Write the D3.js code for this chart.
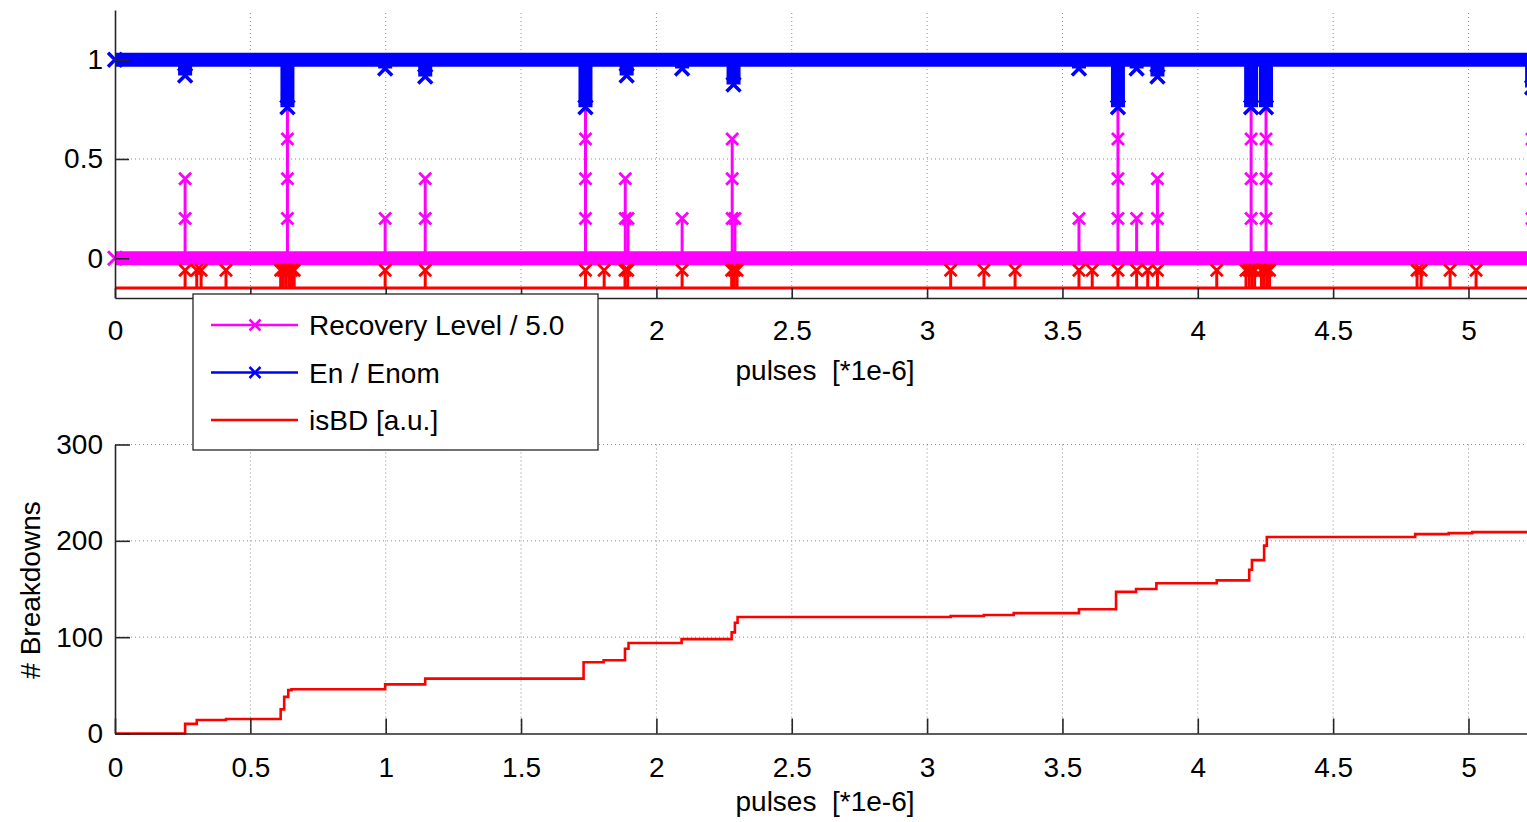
<!DOCTYPE html>
<html>
<head>
<meta charset="utf-8">
<script src="https://cdn.jsdelivr.net/npm/d3@7.9.0/dist/d3.min.js"></script>
<style>
  body { margin: 0; background: #fff; overflow: hidden; }
  svg { display: block; font-family: "Liberation Sans", Arial, sans-serif; }
  .grid line { stroke: #8c8c8c; stroke-width: 1; stroke-dasharray: 1 3; }
  .axis path, .axis line { stroke: #262626; stroke-width: 1.6; }
  .axis text { font-size: 28px; fill: #000; font-family: "Liberation Sans", Arial, sans-serif; }
  .label { font-size: 28px; fill: #000; white-space: pre; }
</style>
</head>
<body>
<svg id="chart" width="1527" height="822"></svg>
<script>
// ticks
const xTicks = [0, 0.5, 1, 1.5, 2, 2.5, 3, 3.5, 4, 4.5, 5];
const topTicks = [0, 0.5, 1];
const bottomTicks = [0, 100, 200, 300];

// breakdowns, pulses [*1e-6]
const bdPulses = [0.259, 0.302, 0.318, 0.41, 0.612, 0.622, 0.632, 0.642, 0.652, 0.662,
  0.998, 1.146, 1.738, 1.807, 1.884, 1.894, 2.095, 2.278, 2.288, 2.298,
  3.087, 3.21, 3.325, 3.561, 3.61, 3.705, 3.774, 3.815, 3.851, 4.07,
  4.178, 4.19, 4.2, 4.21, 4.235, 4.245, 4.255, 4.265, 4.81, 4.825, 4.932, 5.028];
const bdBase = -0.15;
const bdMark = -0.06;

// recovery level (steps of 1/5)
const recPulses = [0.259, 0.637, 0.998, 1.146, 1.738, 1.885, 1.895, 2.095, 2.28, 2.29,
  3.561, 3.705, 3.774, 3.851, 4.197, 4.252, 5.235];
const recLevels = [2, 4, 1, 2, 4, 2, 1, 1, 3, 1, 1, 4, 1, 2, 4, 4, 3];

// En / Enom dips
const enPulses = [0.259, 0.637, 0.998, 1.146, 1.738, 1.89, 2.095, 2.285,
  3.561, 3.705, 3.774, 3.851, 4.197, 4.252, 5.235];
const enDips = [0.92, 0.76, 0.955, 0.915, 0.76, 0.92, 0.955, 0.875,
  0.955, 0.76, 0.955, 0.915, 0.76, 0.76, 0.86];

// cumulative breakdowns
const cumPulses = [0, 0.259, 0.302, 0.41, 0.612, 0.625, 0.64, 0.652, 0.998, 1.146,
  1.731, 1.805, 1.884, 1.897, 2.093, 2.278, 2.29, 2.3, 3.087, 3.21, 3.32, 3.561,
  3.698, 3.772, 3.847, 4.07, 4.19, 4.2, 4.245, 4.255, 4.803, 4.927, 5.014, 5.5];
const cumCount = [0, 10, 14, 15, 25, 38, 45, 46, 51, 57,
  74, 76, 88, 94, 98, 105, 115, 121, 122, 123, 125, 129,
  147, 150, 156, 159, 170, 180, 195, 204, 207, 208, 209, 209];

const legendLabels = ['Recovery Level / 5.0', 'En / Enom', 'isBD [a.u.]'];
const colors = ['#ff00ff', '#0000ff', '#ff0000'];

const svg = d3.select('#chart');

let x = d3.scaleLinear().domain([0, 5.5]).range([115, 115 + 5.5 * 270.7]);
let yTop = d3.scaleLinear().domain([-0.2, 1.25]).range([298, 10]);
let yBot = d3.scaleLinear().domain([0, 300]).range([733.5, 444.5]);

// legend box, drawn last but needed to know which top tick labels it hides
const legendBox = { x: 193, y: 294, w: 405, h: 156 };

function cross(cx, cy, r = 6) {
  return `M${cx - r},${cy - r}L${cx + r},${cy + r}M${cx - r},${cy + r}L${cx + r},${cy - r}`;
}

function grid(y, yTicks) {
  let g = svg.append('g').attr('class', 'grid');
  g.selectAll('.gx').data(xTicks.slice(1)).join('line')
    .attr('x1', (d) => x(d)).attr('x2', (d) => x(d))
    .attr('y1', y.range()[0]).attr('y2', y.range()[1]);
  g.selectAll('.gy').data(yTicks.slice(1)).join('line')
    .attr('x1', x(0)).attr('x2', 1527)
    .attr('y1', (d) => y(d)).attr('y2', (d) => y(d));
}

function axes(y, yTicks, xLen, yLen, pad, hideUnderLegend) {
  let fmt = d3.format('~g');
  let xFmt = (d) => {
    let px = x(d);
    if (hideUnderLegend && px > legendBox.x - 10 && px < legendBox.x + legendBox.w + 10) return '';
    return fmt(d);
  };
  svg.append('g').attr('class', 'axis')
    .attr('transform', `translate(0,${y.range()[0]})`)
    .call(d3.axisBottom(x).tickValues(xTicks).tickSizeInner(-xLen).tickSizeOuter(0)
      .tickPadding(pad).tickFormat(xFmt));
  svg.append('g').attr('class', 'axis')
    .attr('transform', `translate(${x(0)},0)`)
    .call(d3.axisLeft(y).tickValues(yTicks).tickSizeInner(-yLen).tickSizeOuter(0)
      .tickPadding(12).tickFormat(fmt));
}

// TOP PLOT
grid(yTop, topTicks);

// recovery level
svg.append('path')
  .attr('d', d3.line()([[x(0), yTop(0)], [x(5.5), yTop(0)]]))
  .attr('stroke', colors[0]).attr('stroke-width', 14).attr('fill', 'none');
svg.append('path').attr('d', cross(x(0), yTop(0), 7))
  .attr('stroke', colors[0]).attr('stroke-width', 3);
recPulses.forEach((p, i) => {
  let lv = d3.range(1, recLevels[i] + 1).map((k) => k / 5);
  svg.append('line')
    .attr('x1', x(p)).attr('x2', x(p))
    .attr('y1', yTop(0)).attr('y2', yTop(recLevels[i] / 5))
    .attr('stroke', colors[0]).attr('stroke-width', 3);
  svg.append('g').selectAll('path').data(lv).join('path')
    .attr('d', (d) => cross(x(p), yTop(d)))
    .attr('stroke', colors[0]).attr('stroke-width', 2.8);
});

// En / Enom
let enPts = [[0, 1]];
enPulses.forEach((p, i) => {
  enPts.push([p, 1], [p, enDips[i]], [p, 1]);
});
enPts.push([5.5, 1]);
svg.append('path')
  .attr('d', d3.line().x((d) => x(d[0])).y((d) => yTop(d[1]))(enPts))
  .attr('stroke', colors[1]).attr('stroke-width', 14).attr('fill', 'none')
  .attr('stroke-linecap', 'butt');
svg.append('g').selectAll('path').data([[0, 1]].concat(enPulses.map((p, i) => [p, enDips[i]]))).join('path')
  .attr('d', (d) => cross(x(d[0]), yTop(d[1]), 7))
  .attr('stroke', colors[1]).attr('stroke-width', 3.5);

// isBD
svg.append('line')
  .attr('x1', x(0)).attr('x2', x(5.5))
  .attr('y1', yTop(bdBase)).attr('y2', yTop(bdBase))
  .attr('stroke', colors[2]).attr('stroke-width', 3);
svg.append('g').selectAll('line').data(bdPulses).join('line')
  .attr('x1', (d) => x(d)).attr('x2', (d) => x(d))
  .attr('y1', yTop(bdBase)).attr('y2', yTop(bdMark))
  .attr('stroke', colors[2]).attr('stroke-width', 3);
svg.append('g').selectAll('path').data(bdPulses).join('path')
  .attr('d', (d) => cross(x(d), yTop(bdMark)))
  .attr('stroke', colors[2]).attr('stroke-width', 2.8);

axes(yTop, topTicks, 10, 14, 22, true);
svg.append('text').attr('class', 'label')
  .attr('x', 825).attr('y', 380).attr('text-anchor', 'middle')
  .text('pulses  [*1e-6]');

// BOTTOM PLOT
grid(yBot, bottomTicks);
svg.append('path')
  .attr('d', d3.line().x((d, i) => x(cumPulses[i])).y((d) => yBot(d)).curve(d3.curveStepAfter)(cumCount))
  .attr('stroke', colors[2]).attr('stroke-width', 2.6).attr('fill', 'none');
axes(yBot, bottomTicks, 15, 15, 24, false);
svg.append('text').attr('class', 'label')
  .attr('x', 825).attr('y', 811).attr('text-anchor', 'middle')
  .text('pulses  [*1e-6]');
svg.append('text').attr('class', 'label')
  .attr('transform', 'translate(40,590) rotate(-90)')
  .attr('text-anchor', 'middle')
  .text('# Breakdowns');

// LEGEND
let legend = svg.append('g').attr('transform', `translate(${legendBox.x},${legendBox.y})`);
legend.append('rect')
  .attr('width', legendBox.w).attr('height', legendBox.h)
  .attr('fill', '#fff').attr('stroke', '#262626').attr('stroke-width', 1.3);
legendLabels.forEach((label, i) => {
  let cy = 31 + i * 47.5;
  legend.append('line')
    .attr('x1', 18).attr('x2', 105).attr('y1', cy).attr('y2', cy)
    .attr('stroke', colors[i]).attr('stroke-width', 2.5);
  if (i < 2) {
    legend.append('path').attr('d', cross(62, cy, 5.5))
      .attr('stroke', colors[i]).attr('stroke-width', 2.5);
  }
  legend.append('text').attr('class', 'label')
    .attr('x', 116).attr('y', cy + 10)
    .text(label);
});
</script>
</body>
</html>
